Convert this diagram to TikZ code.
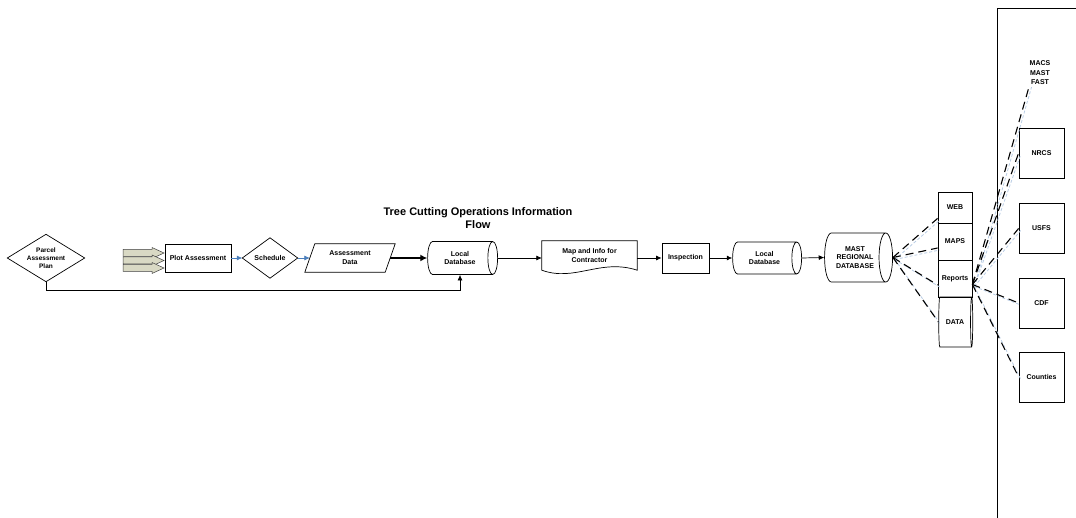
\documentclass[tikz,border=0pt]{standalone}
\usepackage{fontspec}
\setmainfont{Liberation Sans}
\usetikzlibrary{shapes.geometric,arrows.meta,calc}
\definecolor{flowblue}{RGB}{74,126,187}
\definecolor{shadowblue}{RGB}{184,204,228}
\definecolor{khakifill}{RGB}{217,217,196}
\begin{document}
\begin{tikzpicture}[x=1pt,y=-1pt,
  lbl/.style={font=\bfseries\fontsize{7}{8.8}\selectfont, align=center, inner sep=0pt},
  proc/.style={lbl, draw, line width=0.8pt},
  ghost/.style={lbl},
  outline/.style={draw, line width=0.7pt},
  db/.style={lbl, cylinder, draw, line width=0.7pt, aspect=0.7},
  flow/.style={-{Latex[length=5.5pt,width=5pt]}, line width=0.7pt},
  blueflow/.style={flow, draw=flowblue},
  thickflow/.style={-{Latex[length=7pt,width=7pt]}, line width=2.5pt},
  link/.style={line width=1.1pt, dash pattern=on 8pt off 5pt,
     preaction={draw=shadowblue, line width=0.8pt, dash pattern=on 3pt off 2pt,
     transform canvas={xshift=2pt,yshift=-2pt}}},
  blockarrow/.style={fill=khakifill, draw=black!75, line width=0.5pt}
]
\useasboundingbox (0,0) rectangle (1076,518);

% title
\node[font=\bfseries\fontsize{11}{12.5}\selectfont, align=center] (title) at (478,218) {Tree Cutting Operations Information\\Flow};

% Parcel Assessment Plan (diamond)
\node[ghost, font=\bfseries\fontsize{6.5}{8}\selectfont, minimum width=77pt, minimum height=47pt] (parcel) at (46,258) {Parcel\\Assessment\\Plan};
\draw[outline] (parcel.west) -- (parcel.north) -- (parcel.east) -- (parcel.south) -- cycle;

% block arrows
\foreach \c in {253,260.5,268}
  \draw[blockarrow] (123,\c-3.5) -- (152,\c-3.5) -- (152,\c-5.5) -- (164,\c) -- (152,\c+5.5) -- (152,\c+3.5) -- (123,\c+3.5) -- cycle;

% Plot Assessment
\node[proc, minimum width=66pt, minimum height=28pt] (plot) at (198,258) {Plot Assessment};

% Schedule (diamond)
\node[ghost, minimum width=55pt, minimum height=40pt] (schedule) at (270,258) {Schedule};
\draw[outline] (schedule.west) -- (schedule.north) -- (schedule.east) -- (schedule.south) -- cycle;

% Assessment Data (parallelogram)
\node[ghost, minimum width=90pt, minimum height=28pt] (assess) at (350,258) {Assessment\\Data};
\draw[outline] (assess.south west) -- ([xshift=-10pt]assess.south east) -- (assess.north east) -- ([xshift=10pt]assess.north west) -- cycle;

% Local Database 1 (cylinder: minimum height = length along axis)
\node[db, minimum height=70pt, minimum width=33pt] (local1) at (460,258) {Local\\Database};

% Map and Info for Contractor (document)
\node[ghost, minimum width=95pt, minimum height=29pt] (map) at (589.5,255.5) {Map and Info for\\Contractor};
\draw[outline] (map.south west) -- (map.north west) -- (map.north east) -- (map.south east)
   .. controls ([xshift=-37pt,yshift=12pt]map.south east) and ([xshift=33pt,yshift=-12pt]map.south west) .. (map.south west) -- cycle;

% Inspection
\node[proc, minimum width=47pt, minimum height=30pt] (inspection) at (685.5,258) {Inspection};

% Local Database 2
\node[db, minimum height=69pt, minimum width=32pt] (local2) at (764.5,258) {Local\\Database};

% MAST Regional Database
\node[db, minimum height=68pt, minimum width=49pt, aspect=0.6] (mast) at (855,257.5) {MAST\\REGIONAL\\DATABASE};

% stack
\node[proc, minimum width=34pt, minimum height=31pt] (web) at (955,207.5) {\raisebox{-4pt}{WEB}};
\node[proc, minimum width=34pt, minimum height=37pt] (maps) at (955,241.5) {MAPS};
\node[proc, minimum width=34pt, minimum height=37pt] (reports) at (955,278.5) {Reports};
\node[db, aspect=0.45, minimum height=34pt, minimum width=50pt] (data) at (955,322) {DATA};

% big frame
\draw[line width=0.8pt] (1076,8) -- (997,8) -- (997,518);

% right side
\node[lbl, font=\bfseries\fontsize{7}{9.5}\selectfont] (macs) at (1040,73) {MACS\\MAST\\FAST};
\node[proc, minimum width=45pt, minimum height=50pt] (nrcs) at (1041.5,153) {NRCS};
\node[proc, minimum width=45pt, minimum height=50pt] (usfs) at (1041.5,228.5) {USFS};
\node[proc, minimum width=45pt, minimum height=50pt] (cdf) at (1041.5,303) {CDF};
\node[proc, minimum width=45pt, minimum height=50pt] (counties) at (1041.5,377) {Counties};

% flow connectors
\draw[flow] (parcel.south) |- ($(local1.south)+(0,15)$) -- (local1.south);
\draw[blueflow] (plot.east) -- (schedule.west);
\draw[blueflow] (schedule.east) -- ([xshift=5pt]assess.west);
\draw[thickflow] ([xshift=-5pt]assess.east) -- (local1.west);
\draw[flow] (local1.east) -- (local1.east -| map.west);
\draw[flow] (map.east |- inspection.west) -- (inspection.west);
\draw[flow] (inspection.east) -- (local2.west);
\draw[flow] (local2.east) -- (mast.west);

% dashed links
\draw[link] (mast.east) -- ([yshift=5pt]web.south west);
\draw[link] (mast.east) -- ([yshift=-6.5pt]maps.west);
\draw[link] (mast.east) -- ([yshift=-6.5pt]reports.west);
\draw[link] (mast.east) -- (data.west);

\coordinate (rp) at ([yshift=-6pt]reports.east);
\draw[link] (rp) -- (macs.south west);
\draw[link] (rp) -- (nrcs.west);
\draw[link] (rp) -- (usfs.west);
\draw[link] (rp) -- (cdf.west);
\draw[link] (rp) -- (counties.west);
\end{tikzpicture}
\end{document}
